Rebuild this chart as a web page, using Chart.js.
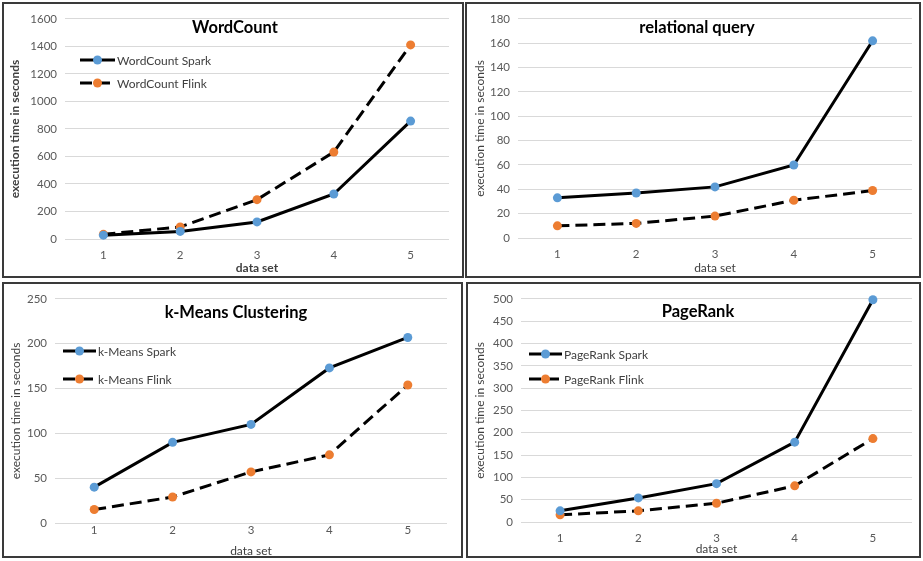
<!DOCTYPE html>
<html>
<head>
<meta charset="utf-8">
<script src="https://cdn.jsdelivr.net/npm/chart.js@4"></script>
<style>
  body { margin: 0; background: #fff; width: 923px; height: 561px; position: relative; overflow: hidden; }
  .panel { position: absolute; border: 2px solid #3a3a3a; box-sizing: border-box; background: #fff; }
  .panel canvas { display: block; }
</style>
</head>
<body>
<div class="panel" style="left:2px;top:2px;width:462px;height:276px"><canvas id="c1"></canvas></div>
<div class="panel" style="left:465px;top:2px;width:456px;height:276px"><canvas id="c2"></canvas></div>
<div class="panel" style="left:2px;top:282px;width:461px;height:276px"><canvas id="c3"></canvas></div>
<div class="panel" style="left:466px;top:282px;width:455px;height:276px"><canvas id="c4"></canvas></div>

<script>
const dataSets = ['1', '2', '3', '4', '5'];

const wordCountSpark = [28, 55, 124, 327, 857];
const wordCountFlink = [34, 88, 286, 632, 1411];

const relationalSpark = [33, 37, 42, 60, 162];
const relationalFlink = [10, 12, 18, 31, 39];

const kMeansSpark = [40, 90, 110, 173, 207];
const kMeansFlink = [15, 29, 57, 76, 154];

const pageRankSpark = [25, 54, 86, 179, 498];
const pageRankFlink = [16, 25, 42, 81, 187];

const SPARK_COLOR = '#5B9BD5';
const FLINK_COLOR = '#ED7D31';
const FONT = 'Lato, "Open Sans", sans-serif';

// title + legend drawn inside the plot area, like the Excel originals
const overlay = {
    id: 'overlay',
    afterDraw(chart, args, opts) {
        const ctx = chart.ctx;
        ctx.save();
        ctx.fillStyle = '#000';
        ctx.font = 'bold 16.5px ' + FONT;
        ctx.textAlign = 'center';
        ctx.textBaseline = 'middle';
        ctx.fillText(opts.title, opts.titleX, opts.titleY);

        if (opts.legend) {
            chart.data.datasets.forEach((ds, i) => {
                const y = opts.legend.y + i * opts.legend.gap;
                const x0 = opts.legend.x;
                const x1 = x0 + opts.legend.len;
                ctx.strokeStyle = '#000';
                ctx.lineWidth = 3;
                ctx.setLineDash(ds.borderDash || []);
                ctx.beginPath();
                ctx.moveTo(x0, y);
                ctx.lineTo(x1, y);
                ctx.stroke();
                ctx.setLineDash([]);
                ctx.fillStyle = ds.pointBackgroundColor;
                ctx.beginPath();
                ctx.arc((x0 + x1) / 2, y, 4.5, 0, Math.PI * 2);
                ctx.fill();
                ctx.fillStyle = '#404040';
                ctx.font = '12px ' + FONT;
                ctx.textAlign = 'left';
                ctx.fillText(ds.label, x1 + 2, y + 1);
            });
        }
        ctx.restore();
    }
};

function makeChart(id, cfg) {
    const canvas = document.getElementById(id);
    const box = canvas.parentElement;
    canvas.width = box.clientWidth;
    canvas.height = box.clientHeight;
    const titleFont = { family: FONT, size: 12, weight: cfg.boldAxes ? 'bold' : 'normal' };
    const tickFont = { family: FONT, size: 11.5 };

    return new Chart(canvas, {
        type: 'line',
        data: {
            labels: dataSets,
            datasets: [
                {
                    label: cfg.names[0],
                    data: cfg.spark,
                    borderColor: '#000',
                    borderWidth: 3,
                    pointBackgroundColor: SPARK_COLOR,
                    pointBorderColor: SPARK_COLOR,
                    pointBorderWidth: 0,
                    pointRadius: 4.5,
                    tension: 0,
                    clip: false
                },
                {
                    label: cfg.names[1],
                    data: cfg.flink,
                    borderColor: '#000',
                    borderWidth: 3,
                    borderDash: [12, 6],
                    pointBackgroundColor: FLINK_COLOR,
                    pointBorderColor: FLINK_COLOR,
                    pointBorderWidth: 0,
                    pointRadius: 4.5,
                    tension: 0,
                    clip: false
                }
            ]
        },
        options: {
            responsive: false,
            animation: false,
            layout: { padding: cfg.padding },
            scales: {
                x: {
                    offset: true,
                    grid: { display: false, drawTicks: false },
                    border: { display: false },
                    ticks: { color: '#595959', font: tickFont, padding: cfg.xTickPad },
                    title: { display: true, text: 'data set', color: '#404040', font: titleFont, padding: { top: 0, bottom: cfg.xTitlePad } },
                    afterFit: (s) => { s.height = cfg.xHeight; }
                },
                y: {
                    min: 0,
                    max: cfg.max,
                    grid: { color: '#d9d9d9', drawTicks: false },
                    border: { display: false },
                    ticks: {
                        stepSize: cfg.step, color: '#595959', font: tickFont, padding: 8,
                        callback: (value) => `${value}`
                    },
                    title: { display: true, text: 'execution time in seconds', color: '#404040', font: titleFont, padding: 0 },
                    afterFit: (s) => { s.width = cfg.yWidth; }
                }
            },
            plugins: {
                legend: { display: false },
                tooltip: { enabled: false },
                overlay: { title: cfg.title, titleX: cfg.titleX, titleY: cfg.titleY, legend: cfg.legend }
            }
        },
        plugins: [overlay]
    });
}

makeChart('c1', {
    title: 'WordCount', names: ['WordCount Spark', 'WordCount Flink'],
    spark: wordCountSpark, flink: wordCountFlink, max: 1600, step: 200, boldAxes: true,
    padding: { top: 12, right: 13, left: 4, bottom: 0 }, yWidth: 57, xHeight: 37, xTickPad: 9, xTitlePad: 1,
    titleX: 231, titleY: 24, legend: { x: 76, y: 56, gap: 23, len: 35 }
});

makeChart('c2', {
    title: 'relational query', names: ['relational query Spark', 'relational query Flink'],
    spark: relationalSpark, flink: relationalFlink, max: 180, step: 20, boldAxes: false,
    padding: { top: 12, right: 7, left: 6, bottom: 0 }, yWidth: 45, xHeight: 38, xTickPad: 9, xTitlePad: 1,
    titleX: 230, titleY: 24, legend: null
});

makeChart('c3', {
    title: 'k-Means Clustering', names: ['k-Means Spark', 'k-Means Flink'],
    spark: kMeansSpark, flink: kMeansFlink, max: 250, step: 50, boldAxes: false,
    padding: { top: 12, right: 14, left: 5, bottom: 0 }, yWidth: 46, xHeight: 33, xTickPad: 0, xTitlePad: -2,
    titleX: 232, titleY: 29, legend: { x: 59, y: 67, gap: 28, len: 33 }
});

makeChart('c4', {
    title: 'PageRank', names: ['PageRank Spark', 'PageRank Flink'],
    spark: pageRankSpark, flink: pageRankFlink, max: 500, step: 50, boldAxes: false,
    padding: { top: 13, right: 7, left: 5, bottom: 0 }, yWidth: 48, xHeight: 34, xTickPad: 9, xTitlePad: 0,
    titleX: 230, titleY: 28, legend: { x: 61, y: 70, gap: 25, len: 33 }
});
</script>
</body>
</html>
